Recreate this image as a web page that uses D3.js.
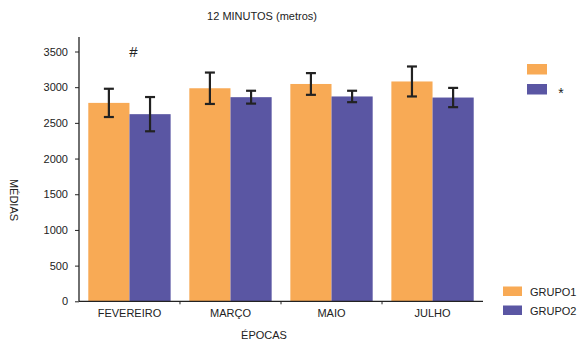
<!DOCTYPE html>
<html>
<head>
<meta charset="utf-8">
<script src="https://cdn.jsdelivr.net/npm/d3@7/dist/d3.min.js"></script>
<style>
  html, body { margin: 0; padding: 0; background: #fff; }
  svg { display: block; font-family: "Liberation Sans", Arial, sans-serif; }
</style>
</head>
<body>
<svg id="chart" width="577" height="343"></svg>
<script>
// Distance run in the 12-minute test (metres), by period and group
const categories = ["FEVEREIRO", "MARÇO", "MAIO", "JULHO"];
const groups = ["GRUPO1", "GRUPO2"];
const grupo1 = [2780, 2985, 3045, 3080];
const grupo2 = [2622, 2860, 2870, 2855];
const grupo1Err = [198, 220, 152, 210];
const grupo2Err = [240, 90, 80, 135];
const yTicks = [0, 500, 1000, 1500, 2000, 2500, 3000, 3500];
const colors = ["#F8AA55", "#5A56A3"];

const svg = d3.select("#chart");
const margin = { left: 79, right: 94, top: 37, bottom: 42 };
const W = 577, H = 343;
const x0 = margin.left, x1 = W - margin.right; // 79 .. 483
const yBase = 301.3;

const x = d3.scaleBand().domain(categories).range([x0, x1]).paddingInner(0.185).paddingOuter(0.092);
const xs = d3.scaleBand().domain(groups).range([0, x.bandwidth()]);
const y = d3.scaleLinear().domain([0, 3500]).range([yBase, 51.5]);

const rows = categories.map((c, i) => ({
  cat: c,
  vals: [
    { g: groups[0], v: grupo1[i], e: grupo1Err[i], k: 0 },
    { g: groups[1], v: grupo2[i], e: grupo2Err[i], k: 1 }
  ]
}));

// bars
const gBars = svg.append("g");
const grp = gBars.selectAll("g.cat").data(rows).join("g")
  .attr("class", "cat")
  .attr("transform", d => `translate(${x(d.cat)},0)`);

grp.selectAll("rect").data(d => d.vals).join("rect")
  .attr("x", d => xs(d.g))
  .attr("width", xs.bandwidth())
  .attr("y", d => y(d.v))
  .attr("height", d => y(0) - y(d.v))
  .attr("fill", d => colors[d.k]);

// error bars
const eb = grp.selectAll("g.err").data(d => d.vals).join("g")
  .attr("class", "err")
  .attr("stroke", "#222")
  .attr("stroke-width", 2.2);
eb.append("line")
  .attr("x1", d => xs(d.g) + xs.bandwidth() / 2)
  .attr("x2", d => xs(d.g) + xs.bandwidth() / 2)
  .attr("y1", d => y(d.v + d.e))
  .attr("y2", d => y(d.v - d.e));
eb.append("line")
  .attr("x1", d => xs(d.g) + xs.bandwidth() / 2 - 5)
  .attr("x2", d => xs(d.g) + xs.bandwidth() / 2 + 5)
  .attr("y1", d => y(d.v + d.e))
  .attr("y2", d => y(d.v + d.e));
eb.append("line")
  .attr("x1", d => xs(d.g) + xs.bandwidth() / 2 - 5)
  .attr("x2", d => xs(d.g) + xs.bandwidth() / 2 + 5)
  .attr("y1", d => y(d.v - d.e))
  .attr("y2", d => y(d.v - d.e));

// y axis
const yAxis = d3.axisLeft(y).tickValues(yTicks).tickSize(4).tickPadding(7).tickFormat(d3.format("d"));
const gy = svg.append("g").attr("transform", `translate(${x0},0)`).call(yAxis);
gy.select(".domain").attr("d", `M0,${yBase}V${margin.top}`).attr("stroke", "#222").attr("stroke-width", 1.3);
gy.selectAll(".tick line").attr("stroke", "#222");
gy.selectAll(".tick text").attr("font-size", 11).attr("fill", "#222").attr("font-family", "Liberation Sans, Arial, sans-serif");

// x axis line with ticks at category boundaries
const gx = svg.append("g");
gx.append("line").attr("x1", x0).attr("x2", x1).attr("y1", yBase).attr("y2", yBase)
  .attr("stroke", "#222").attr("stroke-width", 1.3);
const step = x.step();
const bounds = categories.slice(1).map(c => x(c) - x.paddingInner() * step / 2);
gx.selectAll("line.tk").data(bounds).join("line").attr("class", "tk")
  .attr("x1", d => d).attr("x2", d => d).attr("y1", yBase).attr("y2", yBase + 3)
  .attr("stroke", "#222");
gx.selectAll("text").data(categories).join("text")
  .attr("x", d => x(d) + x.bandwidth() / 2)
  .attr("y", yBase + 16)
  .attr("text-anchor", "middle")
  .attr("font-size", 11).attr("fill", "#222")
  .text(d => d);

// titles
svg.append("text").attr("x", 262).attr("y", 20).attr("text-anchor", "middle")
  .attr("font-size", 11).attr("fill", "#222").text("12 MINUTOS (metros)");
svg.append("text").attr("x", 264).attr("y", 339).attr("text-anchor", "middle")
  .attr("font-size", 11).attr("fill", "#222").text("ÉPOCAS");
svg.append("text").attr("transform", "translate(10,200) rotate(90)").attr("text-anchor", "middle")
  .attr("font-size", 11).attr("fill", "#222").text("MÉDIAS");

// significance marker
svg.append("text").attr("x", x("FEVEREIRO") + x.bandwidth() / 2 + 4).attr("y", 57)
  .attr("text-anchor", "middle").attr("font-size", 15).attr("fill", "#222").text("#");

// upper key swatches
const keyTop = svg.append("g");
keyTop.selectAll("rect").data(groups).join("rect")
  .attr("x", 527).attr("y", (d, i) => 64 + i * 20)
  .attr("width", 20).attr("height", 10.5)
  .attr("fill", (d, i) => colors[i]);
keyTop.append("text").attr("x", 561).attr("y", 98).attr("text-anchor", "middle")
  .attr("font-size", 14).attr("fill", "#222").text("*");

// legend
const legend = svg.append("g");
const li = legend.selectAll("g").data(groups).join("g")
  .attr("transform", (d, i) => `translate(503,${286.5 + i * 19})`);
li.append("rect").attr("width", 19).attr("height", 9.5).attr("fill", (d, i) => colors[i]);
li.append("text").attr("x", 27).attr("y", 9).attr("font-size", 11).attr("fill", "#222").text(d => d);
</script>
</body>
</html>
